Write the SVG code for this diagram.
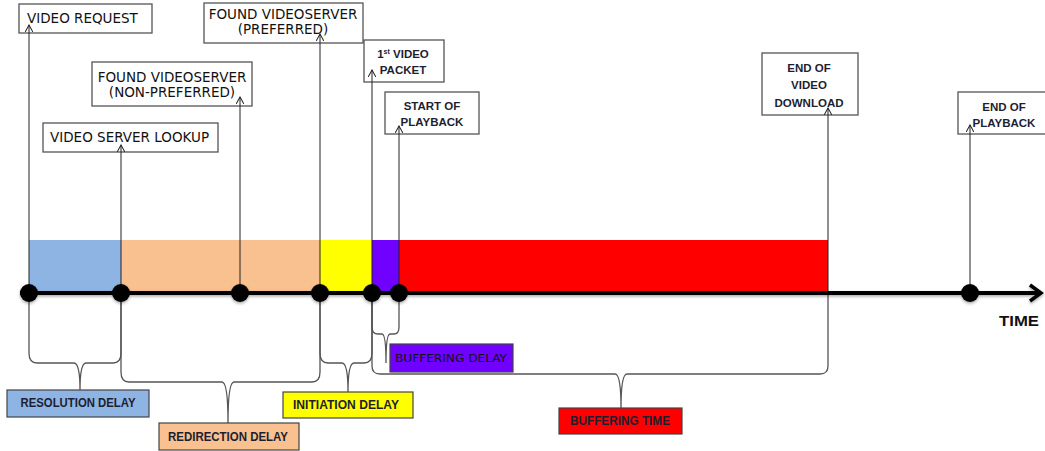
<svg xmlns="http://www.w3.org/2000/svg" width="1045" height="451" viewBox="0 0 1045 451">
<style>
.box{fill:#fff;stroke:#555;stroke-width:1.3}
.lbl{stroke:#444;stroke-width:1.2}
.t1{font-family:"DejaVu Sans",sans-serif;font-size:13.5px;fill:#111}
.tb{font-family:"Liberation Sans",Arial,sans-serif;font-weight:bold;font-size:11.5px;fill:#1e1e30;text-anchor:middle}
.tl{font-family:"Liberation Sans",Arial,sans-serif;font-weight:bold;font-size:12px;fill:#1e1e30;text-anchor:middle}
.conn{stroke:#222;stroke-width:1;fill:none}
.brace{stroke:#555;stroke-width:1.3;fill:none}
</style>
<defs>
<marker id="ah" viewBox="0 0 10 10" refX="9" refY="5" markerWidth="8" markerHeight="8" markerUnits="userSpaceOnUse" orient="auto">
<path d="M0,0 L9,5 L0,10" fill="none" stroke="#222" stroke-width="1.3"/>
</marker>
<filter id="sh" x="-20%" y="-50%" width="140%" height="200%">
<feDropShadow dx="0" dy="1.5" stdDeviation="1.5" flood-color="#000" flood-opacity="0.35"/>
</filter>
</defs>

<g id="bars">
<rect x="29" y="240" width="92" height="51" fill="#8EB4E3"/>
<rect x="121" y="240" width="199" height="51" fill="#F9C090"/>
<rect x="320" y="240" width="52" height="51" fill="#FFFF00"/>
<rect x="372" y="240" width="27" height="51" fill="#7000FF"/>
<rect x="399" y="240" width="429" height="51" fill="#FF0000"/>
</g>

<g id="video-request">
<rect class="box" x="19" y="4" width="133" height="29"/>
<text class="t1" x="27" y="23">VIDEO REQUEST</text>
</g>
<g id="found-preferred">
<rect class="box" x="204" y="3" width="159" height="40"/>
<text class="t1" x="283" y="19" text-anchor="middle">FOUND VIDEOSERVER</text>
<text class="t1" x="283" y="34" text-anchor="middle">(PREFERRED)</text>
</g>
<g id="found-nonpreferred">
<rect class="box" x="92" y="62" width="160" height="44"/>
<text class="t1" x="172" y="82" text-anchor="middle">FOUND VIDEOSERVER</text>
<text class="t1" x="172" y="97" text-anchor="middle">(NON-PREFERRED)</text>
</g>
<g id="server-lookup">
<rect class="box" x="43" y="123" width="175" height="29"/>
<text class="t1" x="50" y="141.5" font-size="13">VIDEO SERVER LOOKUP</text>
</g>
<g id="first-packet">
<rect class="box" x="364" y="40" width="80" height="42"/>
<text class="tb" x="403" y="58">1<tspan font-size="7" dy="-4">st</tspan><tspan dy="4"> VIDEO</tspan></text>
<text class="tb" x="403" y="74">PACKET</text>
</g>
<g id="start-playback">
<rect class="box" x="385" y="92" width="94" height="42"/>
<text class="tb" x="432" y="110">START OF</text>
<text class="tb" x="432" y="126">PLAYBACK</text>
</g>
<g id="end-download">
<rect class="box" x="762" y="53" width="96" height="62"/>
<text class="tb" x="809" y="72">END OF</text>
<text class="tb" x="809" y="89">VIDEO</text>
<text class="tb" x="809" y="107">DOWNLOAD</text>
</g>
<g id="end-playback">
<rect class="box" x="958" y="92" width="90" height="42"/>
<text class="tb" x="1004" y="111">END OF</text>
<text class="tb" x="1004" y="127">PLAYBACK</text>
</g>

<g id="connectors">
<line class="conn" x1="29" y1="293" x2="29" y2="25" marker-end="url(#ah)"/>
<line class="conn" x1="121" y1="293" x2="121" y2="145" marker-end="url(#ah)"/>
<line class="conn" x1="240" y1="293" x2="240" y2="97" marker-end="url(#ah)"/>
<line class="conn" x1="320" y1="293" x2="320" y2="34" marker-end="url(#ah)"/>
<line class="conn" x1="372" y1="293" x2="372" y2="70" marker-end="url(#ah)"/>
<line class="conn" x1="399" y1="293" x2="399" y2="126" marker-end="url(#ah)"/>
<line class="conn" x1="828" y1="293" x2="828" y2="108" marker-end="url(#ah)"/>
<line class="conn" x1="970" y1="293" x2="970" y2="125" marker-end="url(#ah)"/>
<path class="brace" d="M29,293 V353 Q29,363 37,363 H74 Q80,363 80,390 Q80,363 86,363 H113 Q121,363 121,353 V293"/>
<path class="brace" d="M121,293 V372 Q121,382 129,382 H222 Q228,382 228,423 Q228,382 234,382 H312 Q320,382 320,372 V293"/>
<path class="brace" d="M320,293 V353 Q320,363 328,363 H342 Q348,363 348,392 Q348,363 354,363 H364 Q372,363 372,353 V293"/>
<path class="brace" d="M372,293 V327 Q372,334 378,334 H382 Q386,334 386,363 Q386,334 390,334 H394 Q399,334 399,327 V293"/>
<path class="brace" d="M372,293 V366 Q372,374 380,374 H615 Q621,374 621,408 Q621,374 627,374 H820 Q828,374 828,366 V293"/>
</g>

<g id="axis" filter="url(#sh)">
<line x1="20" y1="293" x2="1040" y2="293" stroke="#000" stroke-width="4"/>
<polyline points="1030,285 1041,293 1030,301" fill="none" stroke="#000" stroke-width="3.5"/>
<circle cx="29" cy="293" r="9"/>
<circle cx="121" cy="293" r="9"/>
<circle cx="240" cy="293" r="9"/>
<circle cx="320" cy="293" r="9"/>
<circle cx="372" cy="293" r="9"/>
<circle cx="399" cy="293" r="9"/>
<circle cx="970" cy="293" r="9"/>
</g>

<g id="time">
<text x="999" y="326" font-family="Liberation Sans, Arial, sans-serif" font-weight="bold" font-size="14" fill="#111" textLength="40" lengthAdjust="spacingAndGlyphs">TIME</text>
</g>

<g id="resolution-delay">
<rect class="lbl" x="7" y="390" width="142" height="27" fill="#8EB4E3"/>
<text class="tl" x="78" y="407" textLength="115" lengthAdjust="spacingAndGlyphs">RESOLUTION DELAY</text>
</g>
<g id="redirection-delay">
<rect class="lbl" x="159" y="423" width="140" height="27" fill="#F9C090"/>
<text class="tl" x="228" y="441" textLength="120" lengthAdjust="spacingAndGlyphs">REDIRECTION DELAY</text>
</g>
<g id="initiation-delay">
<rect class="lbl" x="283" y="392" width="130" height="26" fill="#FFFF00"/>
<text class="tl" x="346" y="409" textLength="106" lengthAdjust="spacingAndGlyphs">INITIATION DELAY</text>
</g>
<g id="buffering-delay">
<rect class="lbl" x="390" y="344" width="123" height="28" fill="#7000FF"/>
<text x="451" y="362" font-family="DejaVu Sans, sans-serif" font-size="11" fill="#111" text-anchor="middle" textLength="112" lengthAdjust="spacingAndGlyphs">BUFFERING DELAY</text>
</g>
<g id="buffering-time">
<rect class="lbl" x="559" y="408" width="123" height="26" fill="#FF0000"/>
<text class="tl" x="620" y="425" textLength="100" lengthAdjust="spacingAndGlyphs" fill="#300">BUFFERING TIME</text>
</g>
</svg>
